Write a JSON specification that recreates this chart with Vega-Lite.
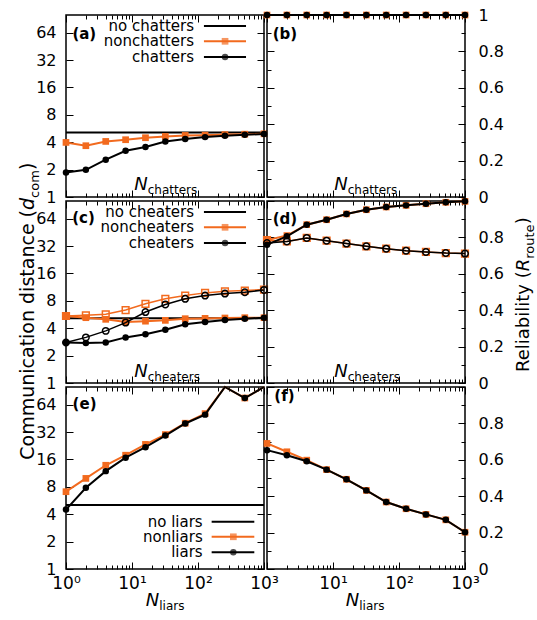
{
"$schema": "https://vega.github.io/schema/vega-lite/v6.json",
"padding": {"left": 18, "top": 6, "right": 5, "bottom": 5},
"background": "white",
"data": {"values": [{}]},
"datasets": {
"a_non": [{"n":1,"v":3.98},{"n":2,"v":3.66},{"n":4,"v":4.08},{"n":8,"v":4.26},{"n":16,"v":4.48},{"n":32,"v":4.63},{"n":64,"v":4.75},{"n":128,"v":4.78},{"n":256,"v":4.85},{"n":512,"v":4.9},{"n":1000,"v":4.95}],
"a_ch": [{"n":1,"v":1.86},{"n":2,"v":1.99},{"n":4,"v":2.57},{"n":8,"v":3.22},{"n":16,"v":3.54},{"n":32,"v":4.08},{"n":64,"v":4.33},{"n":128,"v":4.55},{"n":256,"v":4.71},{"n":512,"v":4.83},{"n":1000,"v":4.92}],
"b": [{"n":1,"v":1},{"n":2,"v":1},{"n":4,"v":1},{"n":8,"v":1},{"n":16,"v":1},{"n":32,"v":1},{"n":64,"v":1},{"n":128,"v":1},{"n":256,"v":1},{"n":512,"v":1},{"n":1000,"v":1}],
"c_non": [{"n":1,"v":5.45},{"n":2,"v":5.22},{"n":4,"v":5.01},{"n":8,"v":4.69},{"n":16,"v":4.78},{"n":32,"v":4.88},{"n":64,"v":5.09},{"n":128,"v":5.13},{"n":256,"v":5.18},{"n":512,"v":5.22},{"n":1000,"v":5.22}],
"c_non_o": [{"n":1,"v":5.45},{"n":2,"v":5.54},{"n":4,"v":5.68},{"n":8,"v":6.33},{"n":16,"v":7.42},{"n":32,"v":8.41},{"n":64,"v":9.14},{"n":128,"v":9.78},{"n":256,"v":10.19},{"n":512,"v":10.36},{"n":1000,"v":10.63}],
"c_ch": [{"n":1,"v":2.79},{"n":2,"v":2.75},{"n":4,"v":2.79},{"n":8,"v":3.17},{"n":16,"v":3.44},{"n":32,"v":3.84},{"n":64,"v":4.42},{"n":128,"v":4.69},{"n":256,"v":4.93},{"n":512,"v":5.09},{"n":1000,"v":5.22}],
"c_ch_o": [{"n":1,"v":2.79},{"n":2,"v":3.17},{"n":4,"v":3.74},{"n":8,"v":4.61},{"n":16,"v":6.02},{"n":32,"v":7.3},{"n":64,"v":8.41},{"n":128,"v":9.14},{"n":256,"v":9.61},{"n":512,"v":9.94},{"n":1000,"v":10.54}],
"d_non": [{"n":1,"v":0.785},{"n":2,"v":0.81},{"n":4,"v":0.87},{"n":8,"v":0.897},{"n":16,"v":0.929},{"n":32,"v":0.952},{"n":64,"v":0.967},{"n":128,"v":0.976},{"n":256,"v":0.985},{"n":512,"v":0.993},{"n":1000,"v":0.998}],
"d_non_o": [{"n":1,"v":0.785},{"n":2,"v":0.778},{"n":4,"v":0.797},{"n":8,"v":0.782},{"n":16,"v":0.766},{"n":32,"v":0.751},{"n":64,"v":0.738},{"n":128,"v":0.727},{"n":256,"v":0.72},{"n":512,"v":0.714},{"n":1000,"v":0.711}],
"d_ch": [{"n":1,"v":0.76},{"n":2,"v":0.806},{"n":4,"v":0.87},{"n":8,"v":0.897},{"n":16,"v":0.929},{"n":32,"v":0.952},{"n":64,"v":0.967},{"n":128,"v":0.976},{"n":256,"v":0.985},{"n":512,"v":0.993},{"n":1000,"v":0.998}],
"d_ch_o": [{"n":1,"v":0.769},{"n":2,"v":0.778},{"n":4,"v":0.797},{"n":8,"v":0.782},{"n":16,"v":0.766},{"n":32,"v":0.751},{"n":64,"v":0.738},{"n":128,"v":0.727},{"n":256,"v":0.72},{"n":512,"v":0.714},{"n":1000,"v":0.711}],
"e_non": [{"n":1,"v":7.07},{"n":2,"v":9.9},{"n":4,"v":13.8},{"n":8,"v":17.8},{"n":16,"v":23.4},{"n":32,"v":30},{"n":64,"v":40},{"n":128,"v":51},{"n":256,"v":100},{"n":512,"v":75.7},{"n":1000,"v":100}],
"e_ch": [{"n":1,"v":4.5},{"n":2,"v":7.8},{"n":4,"v":11.9},{"n":8,"v":16.7},{"n":16,"v":21.8},{"n":32,"v":29.3},{"n":64,"v":39.7},{"n":128,"v":49.7},{"n":256,"v":100},{"n":512,"v":75.7},{"n":1000,"v":100}],
"f_non": [{"n":1,"v":0.69},{"n":2,"v":0.644},{"n":4,"v":0.598},{"n":8,"v":0.546},{"n":16,"v":0.493},{"n":32,"v":0.432},{"n":64,"v":0.368},{"n":128,"v":0.331},{"n":256,"v":0.3},{"n":512,"v":0.27},{"n":1000,"v":0.202}],
"f_ch": [{"n":1,"v":0.653},{"n":2,"v":0.625},{"n":4,"v":0.592},{"n":8,"v":0.546},{"n":16,"v":0.493},{"n":32,"v":0.432},{"n":64,"v":0.368},{"n":128,"v":0.331},{"n":256,"v":0.3},{"n":512,"v":0.27},{"n":1000,"v":0.202}]
},
"config": {
"font": "DejaVu Sans",
"view": {"stroke": "black", "strokeWidth": 1.5},
"axis": {"domain": false, "grid": false, "tickColor": "black", "tickWidth": 1, "labelColor": "black", "labelFont": "DejaVu Sans", "labelFlush": false, "labelOverlap": false, "labelBound": false},
"text": {"color": "black", "font": "DejaVu Sans"}
},
"columns": 2,
"spacing": {"row": 4, "column": 3},
"bounds": "flush",
"concat": [
{"width": 198, "height": 182,
"resolve": {"axis": {"x": "independent", "y": "independent"}},
"layer": [
{"data": {"name": "a_non"}, "mark": {"type": "point", "opacity": 0},
 "encoding": {"x": {"field": "n", "type": "quantitative", "scale": {"type": "log", "domain": [1, 1000], "nice": false}, "axis": {"orient": "bottom", "values": [1,2,3,4,5,6,7,8,9,10,20,30,40,50,60,70,80,90,100,200,300,400,500,600,700,800,900,1000], "tickSize": {"condition": {"test": "indexof([1,10,100,1000],datum.value)>=0", "value": -7}, "value": -4}, "labels": false, "title": null}},
  "y": {"field": "v", "type": "quantitative", "scale": {"type": "log", "domain": [1, 100], "nice": false}, "axis": {"orient": "left", "values": [1,2,4,8,16,32,64], "tickSize": -7, "labelExpr": "''+datum.value", "labelPadding": 17, "labelFontSize": 16, "title": null}}}},
{"data": {"name": "a_non"}, "mark": {"type": "point", "opacity": 0},
 "encoding": {"x": {"field": "n", "type": "quantitative", "scale": {"type": "log", "domain": [1, 1000], "nice": false}, "axis": {"orient": "top", "values": [1,2,3,4,5,6,7,8,9,10,20,30,40,50,60,70,80,90,100,200,300,400,500,600,700,800,900,1000], "tickSize": {"condition": {"test": "indexof([1,10,100,1000],datum.value)>=0", "value": -7}, "value": -4}, "labels": false, "title": null}},
  "y": {"field": "v", "type": "quantitative", "scale": {"type": "log", "domain": [1, 100], "nice": false}, "axis": {"orient": "right", "values": [1,2,4,8,16,32,64], "tickSize": -7, "labels": false, "title": null}}}},
{"mark": {"type": "rule", "color": "black", "strokeWidth": 2}, "encoding": {"y": {"datum": 5.1, "type": "quantitative", "scale": {"type": "log", "domain": [1, 100], "nice": false}, "axis": null}}},
{"data": {"name": "a_non"}, "mark": {"type": "line", "color": "#f26a1e", "strokeWidth": 2, "point": {"shape": "square", "filled": true, "size": 45, "color": "#f26a1e"}},
 "encoding": {"x": {"field": "n", "type": "quantitative", "scale": {"type": "log", "domain": [1, 1000], "nice": false}, "axis": null}, "y": {"field": "v", "type": "quantitative", "scale": {"type": "log", "domain": [1, 100], "nice": false}, "axis": null}}},
{"data": {"name": "a_ch"}, "mark": {"type": "line", "color": "black", "strokeWidth": 2, "point": {"shape": "circle", "filled": true, "size": 42, "color": "black"}},
 "encoding": {"x": {"field": "n", "type": "quantitative", "scale": {"type": "log", "domain": [1, 1000], "nice": false}, "axis": null}, "y": {"field": "v", "type": "quantitative", "scale": {"type": "log", "domain": [1, 100], "nice": false}, "axis": null}}},
{"mark": {"type": "text", "text": "no chatters", "fontSize": 15, "align": "right", "baseline": "middle"}, "encoding": {"x": {"datum": 86.9, "type": "quantitative", "scale": {"type": "log", "domain": [1, 1000], "nice": false}, "axis": null}, "y": {"datum": 75.8, "type": "quantitative", "scale": {"type": "log", "domain": [1, 100], "nice": false}, "axis": null}}},
{"mark": {"type": "text", "text": "nonchatters", "fontSize": 15, "align": "right", "baseline": "middle"}, "encoding": {"x": {"datum": 86.9, "type": "quantitative", "axis": null}, "y": {"datum": 51.4, "type": "quantitative", "axis": null}}},
{"mark": {"type": "text", "text": "chatters", "fontSize": 15, "align": "right", "baseline": "middle"}, "encoding": {"x": {"datum": 86.9, "type": "quantitative", "axis": null}, "y": {"datum": 34.6, "type": "quantitative", "axis": null}}},
{"mark": {"type": "rule", "color": "black", "strokeWidth": 2}, "encoding": {"x": {"datum": 123, "type": "quantitative", "axis": null}, "x2": {"datum": 534}, "y": {"datum": 75.8, "type": "quantitative", "axis": null}}},
{"mark": {"type": "rule", "color": "#f26a1e", "strokeWidth": 2}, "encoding": {"x": {"datum": 123, "type": "quantitative", "axis": null}, "x2": {"datum": 534}, "y": {"datum": 51.4, "type": "quantitative", "axis": null}}},
{"mark": {"type": "point", "shape": "square", "filled": true, "size": 45, "color": "#f26a1e"}, "encoding": {"x": {"datum": 257, "type": "quantitative", "axis": null}, "y": {"datum": 51.4, "type": "quantitative", "axis": null}}},
{"mark": {"type": "rule", "color": "black", "strokeWidth": 2}, "encoding": {"x": {"datum": 123, "type": "quantitative", "axis": null}, "x2": {"datum": 534}, "y": {"datum": 34.6, "type": "quantitative", "axis": null}}},
{"mark": {"type": "point", "shape": "circle", "filled": true, "size": 42, "color": "black"}, "encoding": {"x": {"datum": 257, "type": "quantitative", "axis": null}, "y": {"datum": 34.6, "type": "quantitative", "axis": null}}},
{"mark": {"type": "text", "text": "(a)", "fontSize": 15, "fontWeight": "bold", "align": "left", "baseline": "middle"}, "encoding": {"x": {"datum": 1.25, "type": "quantitative", "axis": null}, "y": {"datum": 61.1, "type": "quantitative", "axis": null}}},
{"mark": {"type": "text", "text": "N", "fontSize": 18, "fontStyle": "italic", "align": "right", "baseline": "alphabetic"}, "encoding": {"x": {"datum": 17.3, "type": "quantitative", "axis": null}, "y": {"datum": 1.194, "type": "quantitative", "axis": null}}},
{"mark": {"type": "text", "text": "chatters", "fontSize": 12, "align": "left", "baseline": "alphabetic", "dy": 4}, "encoding": {"x": {"datum": 17.3, "type": "quantitative", "axis": null}, "y": {"datum": 1.194, "type": "quantitative", "axis": null}}}
]},
{"width": 198, "height": 182,
"resolve": {"axis": {"x": "independent", "y": "independent"}},
"layer": [
{"data": {"name": "b"}, "mark": {"type": "point", "opacity": 0},
 "encoding": {"x": {"field": "n", "type": "quantitative", "scale": {"type": "log", "domain": [1, 1000], "nice": false}, "axis": {"orient": "bottom", "values": [1,2,3,4,5,6,7,8,9,10,20,30,40,50,60,70,80,90,100,200,300,400,500,600,700,800,900,1000], "tickSize": {"condition": {"test": "indexof([1,10,100,1000],datum.value)>=0", "value": -7}, "value": -4}, "labels": false, "title": null}},
  "y": {"field": "v", "type": "quantitative", "scale": {"type": "linear", "domain": [0, 1], "nice": false, "zero": false}, "axis": {"orient": "left", "values": [0,0.1,0.2,0.3,0.4,0.5,0.6,0.7,0.8,0.9,1], "tickSize": {"condition": {"test": "round(datum.value*10)%2==0", "value": -7}, "value": -4}, "labels": false, "title": null}}}},
{"data": {"name": "b"}, "mark": {"type": "point", "opacity": 0},
 "encoding": {"x": {"field": "n", "type": "quantitative", "scale": {"type": "log", "domain": [1, 1000], "nice": false}, "axis": {"orient": "top", "values": [1,2,3,4,5,6,7,8,9,10,20,30,40,50,60,70,80,90,100,200,300,400,500,600,700,800,900,1000], "tickSize": {"condition": {"test": "indexof([1,10,100,1000],datum.value)>=0", "value": -7}, "value": -4}, "labels": false, "title": null}},
  "y": {"field": "v", "type": "quantitative", "scale": {"type": "linear", "domain": [0, 1], "nice": false, "zero": false}, "axis": {"orient": "right", "values": [0,0.1,0.2,0.3,0.4,0.5,0.6,0.7,0.8,0.9,1], "tickSize": {"condition": {"test": "round(datum.value*10)%2==0", "value": -7}, "value": -4}, "labelExpr": "round(datum.value*10)%2==0 ? format(datum.value,'~g') : ''", "labelPadding": 20, "labelFontSize": 16, "title": null}}}},
{"data": {"name": "b"}, "mark": {"type": "line", "color": "#f26a1e", "strokeWidth": 2, "point": {"shape": "square", "filled": true, "size": 45, "color": "#f26a1e"}},
 "encoding": {"x": {"field": "n", "type": "quantitative", "scale": {"type": "log", "domain": [1, 1000], "nice": false}, "axis": null}, "y": {"field": "v", "type": "quantitative", "scale": {"type": "linear", "domain": [0, 1], "nice": false, "zero": false}, "axis": null}}},
{"data": {"name": "b"}, "mark": {"type": "line", "color": "black", "strokeWidth": 2, "point": {"shape": "circle", "filled": true, "size": 42, "color": "black"}},
 "encoding": {"x": {"field": "n", "type": "quantitative", "scale": {"type": "log", "domain": [1, 1000], "nice": false}, "axis": null}, "y": {"field": "v", "type": "quantitative", "scale": {"type": "linear", "domain": [0, 1], "nice": false, "zero": false}, "axis": null}}},
{"mark": {"type": "text", "text": "(b)", "fontSize": 15, "fontWeight": "bold", "align": "left", "baseline": "middle"}, "encoding": {"x": {"datum": 1.22, "type": "quantitative", "axis": null}, "y": {"datum": 0.896, "type": "quantitative", "axis": null}}},
{"mark": {"type": "text", "text": "N", "fontSize": 18, "fontStyle": "italic", "align": "right", "baseline": "alphabetic"}, "encoding": {"x": {"datum": 16.7, "type": "quantitative", "axis": null}, "y": {"datum": 0.037, "type": "quantitative", "axis": null}}},
{"mark": {"type": "text", "text": "chatters", "fontSize": 12, "align": "left", "baseline": "alphabetic", "dy": 4}, "encoding": {"x": {"datum": 16.7, "type": "quantitative", "axis": null}, "y": {"datum": 0.037, "type": "quantitative", "axis": null}}}
]},
{"width": 198, "height": 182,
"resolve": {"axis": {"x": "independent", "y": "independent"}},
"layer": [
{"data": {"name": "c_non"}, "mark": {"type": "point", "opacity": 0},
 "encoding": {"x": {"field": "n", "type": "quantitative", "scale": {"type": "log", "domain": [1, 1000], "nice": false}, "axis": {"orient": "bottom", "values": [1,2,3,4,5,6,7,8,9,10,20,30,40,50,60,70,80,90,100,200,300,400,500,600,700,800,900,1000], "tickSize": {"condition": {"test": "indexof([1,10,100,1000],datum.value)>=0", "value": -7}, "value": -4}, "labels": false, "title": null}},
  "y": {"field": "v", "type": "quantitative", "scale": {"type": "log", "domain": [1, 100], "nice": false}, "axis": {"orient": "left", "values": [1,2,4,8,16,32,64], "tickSize": -7, "labelExpr": "''+datum.value", "labelPadding": 17, "labelFontSize": 16, "title": null}}}},
{"data": {"name": "c_non"}, "mark": {"type": "point", "opacity": 0},
 "encoding": {"x": {"field": "n", "type": "quantitative", "scale": {"type": "log", "domain": [1, 1000], "nice": false}, "axis": {"orient": "top", "values": [1,2,3,4,5,6,7,8,9,10,20,30,40,50,60,70,80,90,100,200,300,400,500,600,700,800,900,1000], "tickSize": {"condition": {"test": "indexof([1,10,100,1000],datum.value)>=0", "value": -7}, "value": -4}, "labels": false, "title": null}},
  "y": {"field": "v", "type": "quantitative", "scale": {"type": "log", "domain": [1, 100], "nice": false}, "axis": {"orient": "right", "values": [1,2,4,8,16,32,64], "tickSize": -7, "labels": false, "title": null}}}},
{"mark": {"type": "rule", "color": "black", "strokeWidth": 2}, "encoding": {"y": {"datum": 5.15, "type": "quantitative", "scale": {"type": "log", "domain": [1, 100], "nice": false}, "axis": null}}},
{"data": {"name": "c_non"}, "mark": {"type": "line", "color": "#f26a1e", "strokeWidth": 2, "point": {"shape": "square", "filled": true, "size": 45, "color": "#f26a1e"}},
 "encoding": {"x": {"field": "n", "type": "quantitative", "scale": {"type": "log", "domain": [1, 1000], "nice": false}, "axis": null}, "y": {"field": "v", "type": "quantitative", "scale": {"type": "log", "domain": [1, 100], "nice": false}, "axis": null}}},
{"data": {"name": "c_non_o"}, "mark": {"type": "line", "color": "#f26a1e", "strokeWidth": 1.5, "point": {"shape": "square", "filled": false, "size": 45, "color": "#f26a1e", "strokeWidth": 1.5}},
 "encoding": {"x": {"field": "n", "type": "quantitative", "scale": {"type": "log", "domain": [1, 1000], "nice": false}, "axis": null}, "y": {"field": "v", "type": "quantitative", "scale": {"type": "log", "domain": [1, 100], "nice": false}, "axis": null}}},
{"data": {"name": "c_ch"}, "mark": {"type": "line", "color": "black", "strokeWidth": 2, "point": {"shape": "circle", "filled": true, "size": 42, "color": "black"}},
 "encoding": {"x": {"field": "n", "type": "quantitative", "scale": {"type": "log", "domain": [1, 1000], "nice": false}, "axis": null}, "y": {"field": "v", "type": "quantitative", "scale": {"type": "log", "domain": [1, 100], "nice": false}, "axis": null}}},
{"data": {"name": "c_ch_o"}, "mark": {"type": "line", "color": "black", "strokeWidth": 1.5, "point": {"shape": "circle", "filled": false, "size": 42, "color": "black", "strokeWidth": 1.5}},
 "encoding": {"x": {"field": "n", "type": "quantitative", "scale": {"type": "log", "domain": [1, 1000], "nice": false}, "axis": null}, "y": {"field": "v", "type": "quantitative", "scale": {"type": "log", "domain": [1, 100], "nice": false}, "axis": null}}},
{"mark": {"type": "text", "text": "no cheaters", "fontSize": 15, "align": "right", "baseline": "middle"}, "encoding": {"x": {"datum": 86.9, "type": "quantitative", "axis": null}, "y": {"datum": 75.8, "type": "quantitative", "axis": null}}},
{"mark": {"type": "text", "text": "noncheaters", "fontSize": 15, "align": "right", "baseline": "middle"}, "encoding": {"x": {"datum": 86.9, "type": "quantitative", "axis": null}, "y": {"datum": 51.4, "type": "quantitative", "axis": null}}},
{"mark": {"type": "text", "text": "cheaters", "fontSize": 15, "align": "right", "baseline": "middle"}, "encoding": {"x": {"datum": 86.9, "type": "quantitative", "axis": null}, "y": {"datum": 34.6, "type": "quantitative", "axis": null}}},
{"mark": {"type": "rule", "color": "black", "strokeWidth": 2}, "encoding": {"x": {"datum": 123, "type": "quantitative", "axis": null}, "x2": {"datum": 534}, "y": {"datum": 75.8, "type": "quantitative", "axis": null}}},
{"mark": {"type": "rule", "color": "#f26a1e", "strokeWidth": 2}, "encoding": {"x": {"datum": 123, "type": "quantitative", "axis": null}, "x2": {"datum": 534}, "y": {"datum": 51.4, "type": "quantitative", "axis": null}}},
{"mark": {"type": "point", "shape": "square", "filled": true, "size": 45, "color": "#f26a1e"}, "encoding": {"x": {"datum": 257, "type": "quantitative", "axis": null}, "y": {"datum": 51.4, "type": "quantitative", "axis": null}}},
{"mark": {"type": "rule", "color": "black", "strokeWidth": 2}, "encoding": {"x": {"datum": 123, "type": "quantitative", "axis": null}, "x2": {"datum": 534}, "y": {"datum": 34.6, "type": "quantitative", "axis": null}}},
{"mark": {"type": "point", "shape": "circle", "filled": true, "size": 42, "color": "black"}, "encoding": {"x": {"datum": 257, "type": "quantitative", "axis": null}, "y": {"datum": 34.6, "type": "quantitative", "axis": null}}},
{"mark": {"type": "text", "text": "(c)", "fontSize": 15, "fontWeight": "bold", "align": "left", "baseline": "middle"}, "encoding": {"x": {"datum": 1.24, "type": "quantitative", "axis": null}, "y": {"datum": 65.1, "type": "quantitative", "axis": null}}},
{"mark": {"type": "text", "text": "N", "fontSize": 18, "fontStyle": "italic", "align": "right", "baseline": "alphabetic"}, "encoding": {"x": {"datum": 17.3, "type": "quantitative", "axis": null}, "y": {"datum": 1.164, "type": "quantitative", "axis": null}}},
{"mark": {"type": "text", "text": "cheaters", "fontSize": 12, "align": "left", "baseline": "alphabetic", "dy": 4}, "encoding": {"x": {"datum": 17.3, "type": "quantitative", "axis": null}, "y": {"datum": 1.164, "type": "quantitative", "axis": null}}},
{"mark": {"type": "text", "text": "Communication distance (", "fontSize": 19, "angle": 270, "align": "right", "baseline": "alphabetic"}, "encoding": {"x": {"datum": 0.327, "type": "quantitative", "axis": null}, "y": {"datum": 79.7, "type": "quantitative", "axis": null}}},
{"mark": {"type": "text", "text": "d", "fontSize": 19, "fontStyle": "italic", "angle": 270, "align": "left", "baseline": "alphabetic"}, "encoding": {"x": {"datum": 0.327, "type": "quantitative", "axis": null}, "y": {"datum": 79.7, "type": "quantitative", "axis": null}}},
{"mark": {"type": "text", "text": "com", "fontSize": 13, "angle": 270, "align": "left", "baseline": "alphabetic", "dx": 12, "dy": 5}, "encoding": {"x": {"datum": 0.327, "type": "quantitative", "axis": null}, "y": {"datum": 79.7, "type": "quantitative", "axis": null}}},
{"mark": {"type": "text", "text": ")", "fontSize": 19, "angle": 270, "align": "left", "baseline": "alphabetic", "dx": 40}, "encoding": {"x": {"datum": 0.327, "type": "quantitative", "axis": null}, "y": {"datum": 79.7, "type": "quantitative", "axis": null}}}
]},
{"width": 198, "height": 182,
"resolve": {"axis": {"x": "independent", "y": "independent"}},
"layer": [
{"data": {"name": "d_ch"}, "mark": {"type": "point", "opacity": 0},
 "encoding": {"x": {"field": "n", "type": "quantitative", "scale": {"type": "log", "domain": [1, 1000], "nice": false}, "axis": {"orient": "bottom", "values": [1,2,3,4,5,6,7,8,9,10,20,30,40,50,60,70,80,90,100,200,300,400,500,600,700,800,900,1000], "tickSize": {"condition": {"test": "indexof([1,10,100,1000],datum.value)>=0", "value": -7}, "value": -4}, "labels": false, "title": null}},
  "y": {"field": "v", "type": "quantitative", "scale": {"type": "linear", "domain": [0, 1], "nice": false, "zero": false}, "axis": {"orient": "left", "values": [0,0.1,0.2,0.3,0.4,0.5,0.6,0.7,0.8,0.9,1], "tickSize": {"condition": {"test": "round(datum.value*10)%2==0", "value": -7}, "value": -4}, "labels": false, "title": null}}}},
{"data": {"name": "d_ch"}, "mark": {"type": "point", "opacity": 0},
 "encoding": {"x": {"field": "n", "type": "quantitative", "scale": {"type": "log", "domain": [1, 1000], "nice": false}, "axis": {"orient": "top", "values": [1,2,3,4,5,6,7,8,9,10,20,30,40,50,60,70,80,90,100,200,300,400,500,600,700,800,900,1000], "tickSize": {"condition": {"test": "indexof([1,10,100,1000],datum.value)>=0", "value": -7}, "value": -4}, "labels": false, "title": null}},
  "y": {"field": "v", "type": "quantitative", "scale": {"type": "linear", "domain": [0, 1], "nice": false, "zero": false}, "axis": {"orient": "right", "values": [0,0.1,0.2,0.3,0.4,0.5,0.6,0.7,0.8,0.9,1], "tickSize": {"condition": {"test": "round(datum.value*10)%2==0", "value": -7}, "value": -4}, "labelExpr": "round(datum.value*10)%2==0 && datum.value<0.99 ? format(datum.value,'~g') : ''", "labelPadding": 20, "labelFontSize": 16, "title": null}}}},
{"data": {"name": "d_non"}, "mark": {"type": "line", "color": "#f26a1e", "strokeWidth": 2, "point": {"shape": "square", "filled": true, "size": 45, "color": "#f26a1e"}},
 "encoding": {"x": {"field": "n", "type": "quantitative", "scale": {"type": "log", "domain": [1, 1000], "nice": false}, "axis": null}, "y": {"field": "v", "type": "quantitative", "scale": {"type": "linear", "domain": [0, 1], "nice": false, "zero": false}, "axis": null}}},
{"data": {"name": "d_non_o"}, "mark": {"type": "line", "color": "#f26a1e", "strokeWidth": 1.5, "point": {"shape": "square", "filled": false, "size": 45, "color": "#f26a1e", "strokeWidth": 1.5}},
 "encoding": {"x": {"field": "n", "type": "quantitative", "scale": {"type": "log", "domain": [1, 1000], "nice": false}, "axis": null}, "y": {"field": "v", "type": "quantitative", "scale": {"type": "linear", "domain": [0, 1], "nice": false, "zero": false}, "axis": null}}},
{"data": {"name": "d_ch"}, "mark": {"type": "line", "color": "black", "strokeWidth": 2, "point": {"shape": "circle", "filled": true, "size": 42, "color": "black"}},
 "encoding": {"x": {"field": "n", "type": "quantitative", "scale": {"type": "log", "domain": [1, 1000], "nice": false}, "axis": null}, "y": {"field": "v", "type": "quantitative", "scale": {"type": "linear", "domain": [0, 1], "nice": false, "zero": false}, "axis": null}}},
{"data": {"name": "d_ch_o"}, "mark": {"type": "line", "color": "black", "strokeWidth": 1.5, "point": {"shape": "circle", "filled": false, "size": 42, "color": "black", "strokeWidth": 1.5}},
 "encoding": {"x": {"field": "n", "type": "quantitative", "scale": {"type": "log", "domain": [1, 1000], "nice": false}, "axis": null}, "y": {"field": "v", "type": "quantitative", "scale": {"type": "linear", "domain": [0, 1], "nice": false, "zero": false}, "axis": null}}},
{"mark": {"type": "text", "text": "(d)", "fontSize": 15, "fontWeight": "bold", "align": "left", "baseline": "middle"}, "encoding": {"x": {"datum": 1.22, "type": "quantitative", "axis": null}, "y": {"datum": 0.901, "type": "quantitative", "axis": null}}},
{"mark": {"type": "text", "text": "N", "fontSize": 18, "fontStyle": "italic", "align": "right", "baseline": "alphabetic"}, "encoding": {"x": {"datum": 16.7, "type": "quantitative", "axis": null}, "y": {"datum": 0.033, "type": "quantitative", "axis": null}}},
{"mark": {"type": "text", "text": "cheaters", "fontSize": 12, "align": "left", "baseline": "alphabetic", "dy": 4}, "encoding": {"x": {"datum": 16.7, "type": "quantitative", "axis": null}, "y": {"datum": 0.033, "type": "quantitative", "axis": null}}},
{"mark": {"type": "text", "text": "Reliability (", "fontSize": 18, "angle": 270, "align": "right", "baseline": "alphabetic"}, "encoding": {"x": {"datum": 9330, "type": "quantitative", "axis": null}, "y": {"datum": 0.614, "type": "quantitative", "axis": null}}},
{"mark": {"type": "text", "text": "R", "fontSize": 18, "fontStyle": "italic", "angle": 270, "align": "left", "baseline": "alphabetic"}, "encoding": {"x": {"datum": 9330, "type": "quantitative", "axis": null}, "y": {"datum": 0.614, "type": "quantitative", "axis": null}}},
{"mark": {"type": "text", "text": "route", "fontSize": 13, "angle": 270, "align": "left", "baseline": "alphabetic", "dx": 12.5, "dy": 5}, "encoding": {"x": {"datum": 9330, "type": "quantitative", "axis": null}, "y": {"datum": 0.614, "type": "quantitative", "axis": null}}},
{"mark": {"type": "text", "text": ")", "fontSize": 18, "angle": 270, "align": "left", "baseline": "alphabetic", "dx": 47}, "encoding": {"x": {"datum": 9330, "type": "quantitative", "axis": null}, "y": {"datum": 0.614, "type": "quantitative", "axis": null}}}
]},
{"width": 198, "height": 182,
"resolve": {"axis": {"x": "independent", "y": "independent"}},
"layer": [
{"data": {"name": "e_non"}, "mark": {"type": "point", "opacity": 0},
 "encoding": {"x": {"field": "n", "type": "quantitative", "scale": {"type": "log", "domain": [1, 1000], "nice": false}, "axis": {"orient": "bottom", "values": [1,2,3,4,5,6,7,8,9,10,20,30,40,50,60,70,80,90,100,200,300,400,500,600,700,800,900,1000], "tickSize": {"condition": {"test": "indexof([1,10,100,1000],datum.value)>=0", "value": -7}, "value": -4}, "labelExpr": "datum.value==1 ? '10⁰' : datum.value==10 ? '10¹' : datum.value==100 ? '10²' : datum.value==1000 ? '10³' : ''", "labelPadding": 13, "labelFontSize": 17, "title": null}},
  "y": {"field": "v", "type": "quantitative", "scale": {"type": "log", "domain": [1, 100], "nice": false}, "axis": {"orient": "left", "values": [1,2,4,8,16,32,64], "tickSize": -7, "labelExpr": "''+datum.value", "labelPadding": 17, "labelFontSize": 16, "title": null}}}},
{"data": {"name": "e_non"}, "mark": {"type": "point", "opacity": 0},
 "encoding": {"x": {"field": "n", "type": "quantitative", "scale": {"type": "log", "domain": [1, 1000], "nice": false}, "axis": {"orient": "top", "values": [1,2,3,4,5,6,7,8,9,10,20,30,40,50,60,70,80,90,100,200,300,400,500,600,700,800,900,1000], "tickSize": {"condition": {"test": "indexof([1,10,100,1000],datum.value)>=0", "value": -7}, "value": -4}, "labels": false, "title": null}},
  "y": {"field": "v", "type": "quantitative", "scale": {"type": "log", "domain": [1, 100], "nice": false}, "axis": {"orient": "right", "values": [1,2,4,8,16,32,64], "tickSize": -7, "labels": false, "title": null}}}},
{"mark": {"type": "rule", "color": "black", "strokeWidth": 2}, "encoding": {"y": {"datum": 5.05, "type": "quantitative", "scale": {"type": "log", "domain": [1, 100], "nice": false}, "axis": null}}},
{"data": {"name": "e_non"}, "mark": {"type": "line", "color": "#f26a1e", "strokeWidth": 2},
 "encoding": {"x": {"field": "n", "type": "quantitative", "scale": {"type": "log", "domain": [1, 1000], "nice": false}, "axis": null}, "y": {"field": "v", "type": "quantitative", "scale": {"type": "log", "domain": [1, 100], "nice": false}, "axis": null}}},
{"data": {"name": "e_non"}, "transform": [{"filter": "datum.v < 99"}], "mark": {"type": "point", "shape": "square", "filled": true, "size": 45, "color": "#f26a1e", "opacity": 1},
 "encoding": {"x": {"field": "n", "type": "quantitative", "scale": {"type": "log", "domain": [1, 1000], "nice": false}, "axis": null}, "y": {"field": "v", "type": "quantitative", "scale": {"type": "log", "domain": [1, 100], "nice": false}, "axis": null}}},
{"data": {"name": "e_ch"}, "mark": {"type": "line", "color": "black", "strokeWidth": 2},
 "encoding": {"x": {"field": "n", "type": "quantitative", "scale": {"type": "log", "domain": [1, 1000], "nice": false}, "axis": null}, "y": {"field": "v", "type": "quantitative", "scale": {"type": "log", "domain": [1, 100], "nice": false}, "axis": null}}},
{"data": {"name": "e_ch"}, "transform": [{"filter": "datum.v < 99"}], "mark": {"type": "point", "shape": "circle", "filled": true, "size": 42, "color": "black", "opacity": 1},
 "encoding": {"x": {"field": "n", "type": "quantitative", "scale": {"type": "log", "domain": [1, 1000], "nice": false}, "axis": null}, "y": {"field": "v", "type": "quantitative", "scale": {"type": "log", "domain": [1, 100], "nice": false}, "axis": null}}},
{"mark": {"type": "text", "text": "no liars", "fontSize": 15, "align": "right", "baseline": "middle"}, "encoding": {"x": {"datum": 117.8, "type": "quantitative", "axis": null}, "y": {"datum": 3.31, "type": "quantitative", "axis": null}}},
{"mark": {"type": "text", "text": "nonliars", "fontSize": 15, "align": "right", "baseline": "middle"}, "encoding": {"x": {"datum": 117.8, "type": "quantitative", "axis": null}, "y": {"datum": 2.26, "type": "quantitative", "axis": null}}},
{"mark": {"type": "text", "text": "liars", "fontSize": 15, "align": "right", "baseline": "middle"}, "encoding": {"x": {"datum": 117.8, "type": "quantitative", "axis": null}, "y": {"datum": 1.53, "type": "quantitative", "axis": null}}},
{"mark": {"type": "rule", "color": "black", "strokeWidth": 2}, "encoding": {"x": {"datum": 161, "type": "quantitative", "axis": null}, "x2": {"datum": 713}, "y": {"datum": 3.31, "type": "quantitative", "axis": null}}},
{"mark": {"type": "rule", "color": "#f26a1e", "strokeWidth": 2}, "encoding": {"x": {"datum": 161, "type": "quantitative", "axis": null}, "x2": {"datum": 713}, "y": {"datum": 2.26, "type": "quantitative", "axis": null}}},
{"mark": {"type": "point", "shape": "square", "filled": true, "size": 45, "color": "#f26a1e"}, "encoding": {"x": {"datum": 343, "type": "quantitative", "axis": null}, "y": {"datum": 2.26, "type": "quantitative", "axis": null}}},
{"mark": {"type": "rule", "color": "black", "strokeWidth": 2}, "encoding": {"x": {"datum": 161, "type": "quantitative", "axis": null}, "x2": {"datum": 713}, "y": {"datum": 1.53, "type": "quantitative", "axis": null}}},
{"mark": {"type": "point", "shape": "circle", "filled": true, "size": 42, "color": "black"}, "encoding": {"x": {"datum": 343, "type": "quantitative", "axis": null}, "y": {"datum": 1.53, "type": "quantitative", "axis": null}}},
{"mark": {"type": "text", "text": "(e)", "fontSize": 15, "fontWeight": "bold", "align": "left", "baseline": "middle"}, "encoding": {"x": {"datum": 1.26, "type": "quantitative", "axis": null}, "y": {"datum": 65.1, "type": "quantitative", "axis": null}}},
{"mark": {"type": "text", "text": "N", "fontSize": 18, "fontStyle": "italic", "align": "right", "baseline": "alphabetic"}, "encoding": {"x": {"datum": 25.9, "type": "quantitative", "axis": null}, "y": {"datum": 0.392, "type": "quantitative", "axis": null}}},
{"mark": {"type": "text", "text": "liars", "fontSize": 12, "align": "left", "baseline": "alphabetic", "dy": 4}, "encoding": {"x": {"datum": 25.9, "type": "quantitative", "axis": null}, "y": {"datum": 0.392, "type": "quantitative", "axis": null}}}
]},
{"width": 198, "height": 182,
"resolve": {"axis": {"x": "independent", "y": "independent"}},
"layer": [
{"data": {"name": "f_ch"}, "mark": {"type": "point", "opacity": 0},
 "encoding": {"x": {"field": "n", "type": "quantitative", "scale": {"type": "log", "domain": [1, 1000], "nice": false}, "axis": {"orient": "bottom", "values": [1,2,3,4,5,6,7,8,9,10,20,30,40,50,60,70,80,90,100,200,300,400,500,600,700,800,900,1000], "tickSize": {"condition": {"test": "indexof([1,10,100,1000],datum.value)>=0", "value": -7}, "value": -4}, "labelExpr": "datum.value==10 ? '10¹' : datum.value==100 ? '10²' : datum.value==1000 ? '10³' : ''", "labelPadding": 13, "labelFontSize": 17, "title": null}},
  "y": {"field": "v", "type": "quantitative", "scale": {"type": "linear", "domain": [0, 1], "nice": false, "zero": false}, "axis": {"orient": "left", "values": [0,0.1,0.2,0.3,0.4,0.5,0.6,0.7,0.8,0.9,1], "tickSize": {"condition": {"test": "round(datum.value*10)%2==0", "value": -7}, "value": -4}, "labels": false, "title": null}}}},
{"data": {"name": "f_ch"}, "mark": {"type": "point", "opacity": 0},
 "encoding": {"x": {"field": "n", "type": "quantitative", "scale": {"type": "log", "domain": [1, 1000], "nice": false}, "axis": {"orient": "top", "values": [1,2,3,4,5,6,7,8,9,10,20,30,40,50,60,70,80,90,100,200,300,400,500,600,700,800,900,1000], "tickSize": {"condition": {"test": "indexof([1,10,100,1000],datum.value)>=0", "value": -7}, "value": -4}, "labels": false, "title": null}},
  "y": {"field": "v", "type": "quantitative", "scale": {"type": "linear", "domain": [0, 1], "nice": false, "zero": false}, "axis": {"orient": "right", "values": [0,0.1,0.2,0.3,0.4,0.5,0.6,0.7,0.8,0.9,1], "tickSize": {"condition": {"test": "round(datum.value*10)%2==0", "value": -7}, "value": -4}, "labelExpr": "round(datum.value*10)%2==0 && datum.value<0.99 ? format(datum.value,'~g') : ''", "labelPadding": 20, "labelFontSize": 16, "title": null}}}},
{"data": {"name": "f_non"}, "mark": {"type": "line", "color": "#f26a1e", "strokeWidth": 2, "point": {"shape": "square", "filled": true, "size": 45, "color": "#f26a1e"}},
 "encoding": {"x": {"field": "n", "type": "quantitative", "scale": {"type": "log", "domain": [1, 1000], "nice": false}, "axis": null}, "y": {"field": "v", "type": "quantitative", "scale": {"type": "linear", "domain": [0, 1], "nice": false, "zero": false}, "axis": null}}},
{"data": {"name": "f_ch"}, "mark": {"type": "line", "color": "black", "strokeWidth": 2, "point": {"shape": "circle", "filled": true, "size": 42, "color": "black"}},
 "encoding": {"x": {"field": "n", "type": "quantitative", "scale": {"type": "log", "domain": [1, 1000], "nice": false}, "axis": null}, "y": {"field": "v", "type": "quantitative", "scale": {"type": "linear", "domain": [0, 1], "nice": false, "zero": false}, "axis": null}}},
{"mark": {"type": "text", "text": "(f)", "fontSize": 15, "fontWeight": "bold", "align": "left", "baseline": "middle"}, "encoding": {"x": {"datum": 1.29, "type": "quantitative", "axis": null}, "y": {"datum": 0.95, "type": "quantitative", "axis": null}}},
{"mark": {"type": "text", "text": "N", "fontSize": 18, "fontStyle": "italic", "align": "right", "baseline": "alphabetic"}, "encoding": {"x": {"datum": 25, "type": "quantitative", "axis": null}, "y": {"datum": -0.203, "type": "quantitative", "axis": null}}},
{"mark": {"type": "text", "text": "liars", "fontSize": 12, "align": "left", "baseline": "alphabetic", "dy": 4}, "encoding": {"x": {"datum": 25, "type": "quantitative", "axis": null}, "y": {"datum": -0.203, "type": "quantitative", "axis": null}}}
]}
]
}
